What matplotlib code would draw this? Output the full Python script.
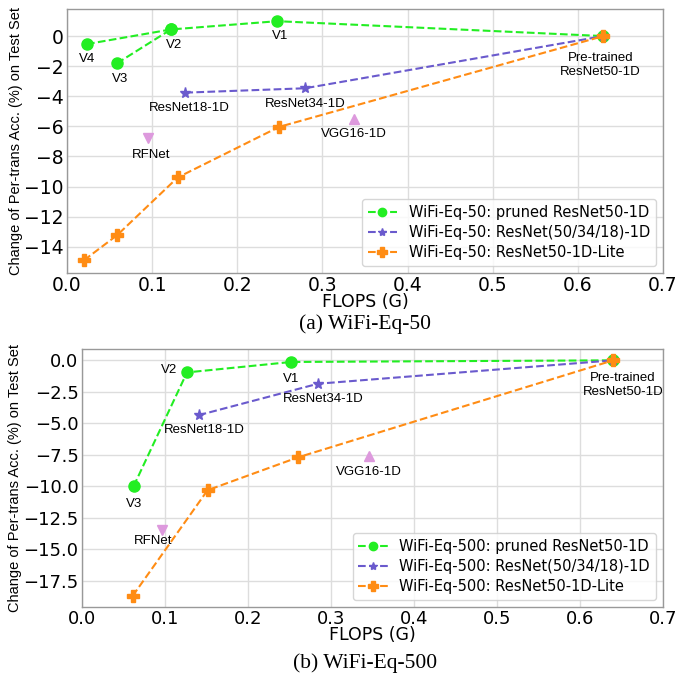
import matplotlib.pyplot as plt

# --- datos (a) WiFi-Eq-50 ---
pruned50_x = [0.0235, 0.122, 0.247, 0.63]
pruned50_y = [-0.53, 0.44, 0.99, 0.0]
v3_50 = (0.0587, -1.81)   # rama V3 -> V2
resnet50_x = [0.139, 0.2795, 0.63]
resnet50_y = [-3.76, -3.47, 0.0]
lite50_x = [0.020, 0.059, 0.130, 0.249, 0.63]
lite50_y = [-14.9, -13.23, -9.40, -6.04, 0.0]
rfnet50 = (0.095, -6.77)
vgg50 = (0.3367, -5.51)

# --- datos (b) WiFi-Eq-500 ---
pruned500_x = [0.0622, 0.1265, 0.2522, 0.64]
pruned500_y = [-10.0, -0.96, -0.13, 0.0]
resnet500_x = [0.1405, 0.2843, 0.64]
resnet500_y = [-4.36, -1.86, 0.0]
lite500_x = [0.061, 0.1513, 0.2602, 0.64]
lite500_y = [-18.72, -10.32, -7.71, 0.0]
rfnet500 = (0.096, -13.46)
vgg500 = (0.3453, -7.63)

c_green = '#22ee22'
c_purple = '#6a5acd'
c_orange = '#ff8c14'
c_pink = '#dd99dd'
sans = 'Liberation Sans'

fig = plt.figure(figsize=(6.89, 6.77), dpi=100)
ax1 = fig.add_axes([67/689, 1 - 273/677, 596/689, 264/677])
ax2 = fig.add_axes([82/689, 1 - 607/677, 581/689, 258/677])


def estilo(ax, fs):
    ax.grid(True, color='#dddddd', linewidth=1.0)
    ax.set_axisbelow(True)
    for s in ax.spines.values():
        s.set_color('#999999')
        s.set_linewidth(1.0)
    ax.tick_params(length=0, labelsize=fs, pad=2.5)
    ax.set_xlim(0, 0.7)
    ax.set_xlabel('FLOPS (G)', fontsize=12.5, labelpad=-2)
    ax.set_ylabel('Change of Per-trans Acc. (%) on Test Set', fontsize=10.5,
                  family=sans, labelpad=1)


def etiqueta(ax, txt, p, dx, dy):
    ax.annotate(txt, p, xytext=(dx, dy), textcoords='offset points',
                ha='center', va='center', fontsize=9.5, family=sans)


# ---- (a) ----
ax = ax1
estilo(ax, 13.5)
ax.plot([v3_50[0], pruned50_x[1]], [v3_50[1], pruned50_y[1]], '--o',
        color=c_green, markersize=8)
ax.plot(pruned50_x, pruned50_y, '--o', color=c_green, markersize=8,
        label='WiFi-Eq-50: pruned ResNet50-1D')
ax.plot(resnet50_x, resnet50_y, '--*', color=c_purple, markersize=8,
        label='WiFi-Eq-50: ResNet(50/34/18)-1D')
ax.plot(lite50_x, lite50_y, '--P', color=c_orange, markersize=9,
        label='WiFi-Eq-50: ResNet50-1D-Lite')
ax.plot(*rfnet50, 'v', color=c_pink, markersize=7)
ax.plot(*vgg50, '^', color=c_pink, markersize=7)
ax.set_ylim(-15.75, 1.8)
ax.set_yticks([0, -2, -4, -6, -8, -10, -12, -14])
etiqueta(ax, 'V4', (pruned50_x[0], pruned50_y[0]), 0, -11)
etiqueta(ax, 'V3', v3_50, 2, -11)
etiqueta(ax, 'V2', (pruned50_x[1], pruned50_y[1]), 2, -11)
etiqueta(ax, 'V1', (pruned50_x[2], pruned50_y[2]), 2, -11)
etiqueta(ax, 'ResNet18-1D', (resnet50_x[0], resnet50_y[0]), 3, -11)
etiqueta(ax, 'ResNet34-1D', (resnet50_x[1], resnet50_y[1]), 0, -11)
etiqueta(ax, 'RFNet', rfnet50, 2, -12)
etiqueta(ax, 'VGG16-1D', vgg50, 0, -11)
etiqueta(ax, 'Pre-trained\nResNet50-1D', (0.63, 0.0), -2, -21)
ax.legend(loc='lower right', fontsize=10.5, frameon=True, handlelength=2,
          borderpad=0.4, labelspacing=0.35, markerscale=0.75)

# ---- (b) ----
ax = ax2
estilo(ax, 13)
ax.plot(pruned500_x, pruned500_y, '--o', color=c_green, markersize=8,
        label='WiFi-Eq-500: pruned ResNet50-1D')
ax.plot(resnet500_x, resnet500_y, '--*', color=c_purple, markersize=8,
        label='WiFi-Eq-500: ResNet(50/34/18)-1D')
ax.plot(lite500_x, lite500_y, '--P', color=c_orange, markersize=9,
        label='WiFi-Eq-500: ResNet50-1D-Lite')
ax.plot(*rfnet500, 'v', color=c_pink, markersize=7)
ax.plot(*vgg500, '^', color=c_pink, markersize=7)
ax.set_ylim(-19.6, 0.9)
ax.set_yticks([0, -2.5, -5, -7.5, -10, -12.5, -15, -17.5])
etiqueta(ax, 'V3', (pruned500_x[0], pruned500_y[0]), 0, -13)
etiqueta(ax, 'V2', (pruned500_x[1], pruned500_y[1]), -13, 2)
etiqueta(ax, 'V1', (pruned500_x[2], pruned500_y[2]), 0, -12)
etiqueta(ax, 'ResNet18-1D', (resnet500_x[0], resnet500_y[0]), 4, -11)
etiqueta(ax, 'ResNet34-1D', (resnet500_x[1], resnet500_y[1]), 4, -11)
etiqueta(ax, 'RFNet', rfnet500, -6, -8)
etiqueta(ax, 'VGG16-1D', vgg500, 0, -11)
etiqueta(ax, 'Pre-trained\nResNet50-1D', (0.64, 0.0), 7, -18)
ax.legend(loc='lower right', fontsize=10.5, frameon=True, handlelength=2,
          borderpad=0.4, labelspacing=0.35, markerscale=0.75)

# subtítulos
fig.text(0.53, 1 - 324/677, '(a) WiFi-Eq-50', ha='center', va='center',
         fontsize=15.5, family='Liberation Serif')
fig.text(0.53, 1 - 663/677, '(b) WiFi-Eq-500', ha='center', va='center',
         fontsize=15.5, family='Liberation Serif')

plt.savefig('out.png', dpi=100)
